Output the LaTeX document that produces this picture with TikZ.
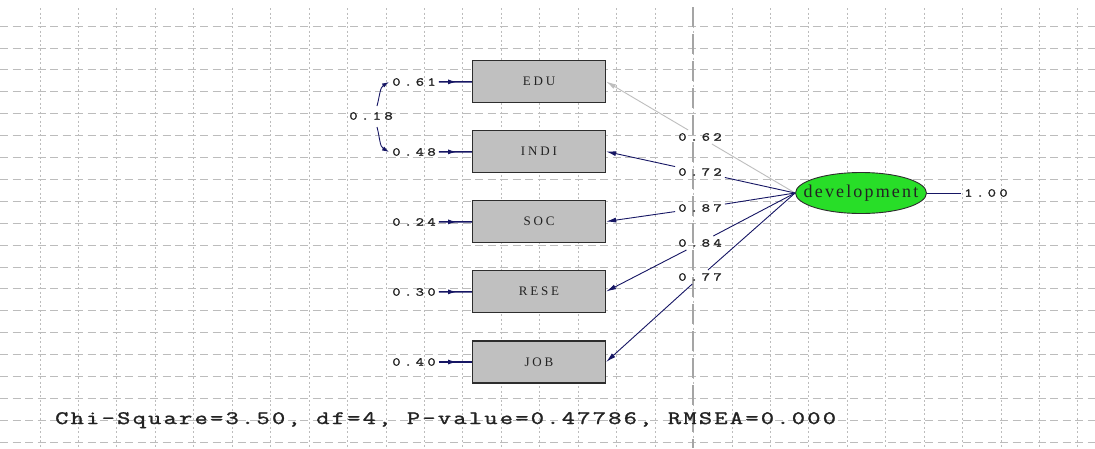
\documentclass[tikz,border=0pt]{standalone}
\usepackage{fontspec}
\setmainfont{Liberation Serif}
\newfontfamily\numfont{Latin Modern Mono}[FakeStretch=1.35,LetterSpace=28,FakeBold=1.5]
\newfontfamily\chifont{Latin Modern Mono}[FakeStretch=1.35,LetterSpace=12,FakeBold=1.5]
\newfontfamily\boxfont{Liberation Serif}[LetterSpace=22]
\newfontfamily\devfont{Liberation Serif}[LetterSpace=12]
\usetikzlibrary{arrows.meta,decorations.markings,shapes.geometric}
\definecolor{navy}{RGB}{22,22,100}
\definecolor{boxgray}{RGB}{192,192,192}
\definecolor{boxedge}{RGB}{45,45,45}
\definecolor{devgreen}{RGB}{40,222,40}
\definecolor{gridcol}{RGB}{188,188,188}
\definecolor{midcol}{RGB}{165,165,165}
\definecolor{lightpath}{RGB}{190,190,190}
\definecolor{txt}{RGB}{35,35,35}
\tikzset{
  gridv/.style={gridcol, line width=0.8pt, dash pattern=on 2pt off 2.5pt},
  gridh/.style={gridcol, line width=0.8pt, dash pattern=on 8pt off 4.5pt},
  midline/.style={midcol, line width=1.6pt, dash pattern=on 20pt off 7pt},
  varbox/.style={draw=boxedge, line width=1.2pt, fill=boxgray, minimum width=133pt, minimum height=42pt, inner sep=0pt, text=txt, font={\boxfont\fontsize{13pt}{14pt}\selectfont}},
  latent/.style={ellipse, draw=boxedge, line width=0.9pt, fill=devgreen, minimum width=131pt, minimum height=41pt, inner sep=0pt, text=txt, font={\devfont\fontsize{18pt}{19pt}\selectfont}},
  numlab/.style={inner sep=3pt, text=txt, font={\numfont\fontsize{12pt}{13pt}\selectfont}},
  navyline/.style={navy, line width=0.9pt},
  loadarrow/.style={navy, line width=0.9pt, -{Latex[length=10pt,width=5pt]}},
  graypath/.style={lightpath, line width=0.9pt},
  grayarrow/.style={lightpath, line width=0.9pt, -{Latex[length=10pt,width=5pt]}},
  errarrow/.style={navy, line width=1.5pt, postaction={decorate},
    decoration={markings, mark=at position 0.55 with {\arrow{Latex[length=9pt,width=5pt]}}}},
  covarrow/.style={navy, line width=0.9pt, -{Latex[length=7pt,width=4.5pt]}}
}
\begin{document}
\begin{tikzpicture}[x=1pt,y=-1pt]
\useasboundingbox (0,0) rectangle (1095,448);
\fill[white] (0,0) rectangle (1095,448);
% grid
\foreach \k in {0,...,27} \draw[gridv] ({40+38.44*\k},8) -- ({40+38.44*\k},448);
\foreach \k in {0,...,19} \draw[gridh] (0,{26+21.9*\k}) -- (1095,{26+21.9*\k});
\draw[midline] (693,7) -- (693,448);
% observed variables
\node[varbox] (edu)  at (539,81.5)  {EDU};
\node[varbox] (indi) at (539,151.5) {INDI};
\node[varbox] (soc)  at (539,221.5) {SOC};
\node[varbox] (rese) at (539,291.5) {RESE};
\node[varbox] (job)  at (539,362)   {JOB};
% error labels
\node[numlab] (e1) at (414,82)  {0.61};
\node[numlab] (e2) at (414,152) {0.48};
\node[numlab] (e3) at (414,222) {0.24};
\node[numlab] (e4) at (414,292) {0.30};
\node[numlab] (e5) at (414,362) {0.40};
\draw[errarrow] (e1) -- (edu);
\draw[errarrow] (e2) -- (indi);
\draw[errarrow] (e3) -- (soc);
\draw[errarrow] (e4) -- (rese);
\draw[errarrow] (e5) -- (job);
% covariance
\node[numlab] (c18) at (371,116) {0.18};
\coordinate (ctop) at (377,106);
\coordinate (cbot) at (377,127);
\draw[covarrow] (ctop) to[out=75,in=210] (e1.west);
\draw[covarrow] (cbot) to[out=-75,in=150] (e2.west);
% latent
\node[latent] (dev) at (861,193) {\makebox[0pt]{development}};
\node[numlab] (one) at (986,193) {1.00};
\draw[navyline] (dev.east) -- (one.west);
% loadings
\node[numlab] (l1) at (700,137) {0.62};
\node[numlab] (l2) at (700,172) {0.72};
\node[numlab] (l3) at (700,208) {0.87};
\node[numlab] (l4) at (700,243) {0.84};
\node[numlab] (l5) at (700,277) {0.77};
\draw[graypath] (dev.west) -- (l1);
\draw[grayarrow] (l1) -- (edu.east);
\draw[navyline] (dev.west) -- (l2);
\draw[loadarrow] (l2) -- (indi.east);
\draw[navyline] (dev.west) -- (l3);
\draw[loadarrow] (l3) -- (soc.east);
\draw[navyline] (dev.west) -- (l4);
\draw[loadarrow] (l4) -- (rese.east);
\draw[navyline] (dev.west) -- (l5);
\draw[loadarrow] (l5) -- (job.east);
% fit statistics
\node[anchor=base west, inner sep=0pt, text=txt, font={\chifont\fontsize{19pt}{20pt}\selectfont}] (chi) at (55,424) {Chi-Square=3.50, df=4, P-value=0.47786, RMSEA=0.000};
\end{tikzpicture}
\end{document}
